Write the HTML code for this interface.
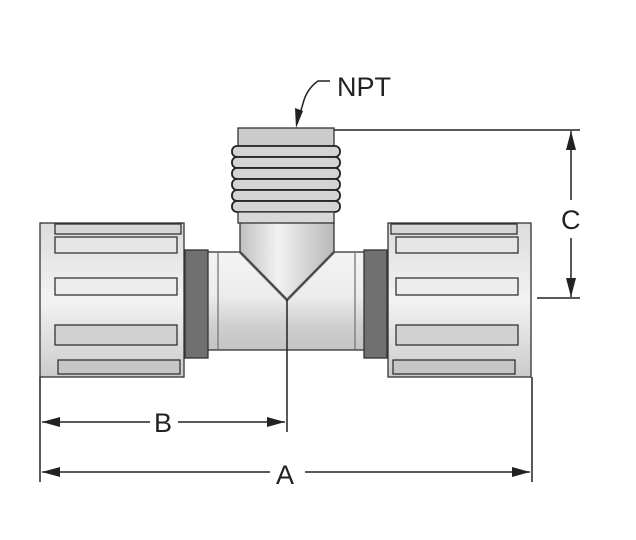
<!DOCTYPE html>
<html><head><style>html,body{margin:0;padding:0;background:#fff}svg{display:block}</style></head>
<body>
<svg width="636" height="540" viewBox="0 0 636 540" xmlns="http://www.w3.org/2000/svg">
<defs>
<linearGradient id="pv" x1="0" y1="0" x2="0" y2="1">
<stop offset="0" stop-color="#f4f4f4"/><stop offset="0.45" stop-color="#ececec"/><stop offset="0.75" stop-color="#cfcfcf"/><stop offset="1" stop-color="#c4c4c4"/></linearGradient>
<linearGradient id="fh" x1="0" y1="0" x2="1" y2="0">
<stop offset="0" stop-color="#c0c0c0"/><stop offset="0.4" stop-color="#f2f2f2"/><stop offset="1" stop-color="#b8b8b8"/></linearGradient>
<linearGradient id="nut" x1="0" y1="0" x2="0" y2="1">
<stop offset="0" stop-color="#dcdcdc"/><stop offset="0.5" stop-color="#f3f3f3"/><stop offset="1" stop-color="#cbcbcb"/></linearGradient>
</defs>
<g stroke="#333" stroke-width="1.3" fill="none">
<rect x="207" y="252" width="158" height="98" fill="url(#pv)"/>
<line x1="218" y1="253" x2="218" y2="349" stroke="#777"/>
<line x1="355" y1="253" x2="355" y2="349" stroke="#777"/>
<rect x="185" y="250" width="23" height="108" fill="#707070"/>
<rect x="364" y="250" width="23" height="108" fill="#707070"/>
<path d="M240 222 L334 222 L334 252 L287 300 L240 252 Z" fill="url(#fh)"/>
<path d="M240 252 L287 300 L334 252" stroke="#888" stroke-width="3"/>
<path d="M240 252 L287 300 L334 252"/>
<rect x="238" y="128" width="96" height="18" fill="#cccccc"/>
<g fill="#d4d4d4" stroke="#222" stroke-width="1.8">
<rect x="232" y="146" width="108" height="11" rx="5"/>
<rect x="232" y="157" width="108" height="11" rx="5"/>
<rect x="232" y="168" width="108" height="11" rx="5"/>
<rect x="232" y="179" width="108" height="11" rx="5"/>
<rect x="232" y="190" width="108" height="11" rx="5"/>
<rect x="232" y="201" width="108" height="11" rx="5"/>
</g>
<rect x="238" y="212" width="96" height="11" fill="#d8d8d8"/>
<rect x="40" y="223" width="144" height="154" fill="url(#nut)"/>
<rect x="55" y="224" width="126" height="10" fill="#d6d6d6"/>
<rect x="55" y="237" width="122" height="16" fill="#e6e6e6"/>
<rect x="55" y="278" width="122" height="17" fill="#ededed"/>
<rect x="55" y="325" width="122" height="20" fill="#d0d0d0"/>
<rect x="58" y="360" width="122" height="14" fill="#c6c6c6"/>
<rect x="388" y="223" width="143" height="154" fill="url(#nut)"/>
<rect x="391" y="224" width="126" height="10" fill="#d6d6d6"/>
<rect x="396" y="237" width="122" height="16" fill="#e6e6e6"/>
<rect x="396" y="278" width="122" height="17" fill="#ededed"/>
<rect x="396" y="325" width="122" height="20" fill="#d0d0d0"/>
<rect x="393" y="360" width="122" height="14" fill="#c6c6c6"/>
</g>
<g stroke="#222" stroke-width="1.5" fill="none">
<line x1="334" y1="130" x2="580" y2="130"/>
<line x1="537" y1="298" x2="580" y2="298"/>
<line x1="571" y1="131" x2="571" y2="200"/>
<line x1="571" y1="238" x2="571" y2="297"/>
<line x1="287" y1="300" x2="287" y2="432"/>
<line x1="40" y1="377" x2="40" y2="482"/>
<line x1="532" y1="377" x2="532" y2="482"/>
<line x1="42" y1="422" x2="150" y2="422"/>
<line x1="178" y1="422" x2="285" y2="422"/>
<line x1="42" y1="472" x2="270" y2="472"/>
<line x1="305" y1="472" x2="530" y2="472"/>
<path d="M330 81 L318 81 Q308 88 304 100 L297 124"/>
</g>
<g fill="#222">
<polygon points="571,131 566,150 576,150"/>
<polygon points="571,297 566,278 576,278"/>
<polygon points="42,422 60,417 60,427"/>
<polygon points="285,422 267,417 267,427"/>
<polygon points="42,472 60,467 60,477"/>
<polygon points="530,472 512,467 512,477"/>
<polygon points="296,128 295,108 303,111"/>
</g>
<g font-family="Liberation Sans, sans-serif" fill="#222" font-size="27">
<text x="337" y="96">NPT</text>
<text x="561" y="229">C</text>
<text x="154" y="432">B</text>
<text x="276" y="484">A</text>
</g>
</svg>
</body></html>
